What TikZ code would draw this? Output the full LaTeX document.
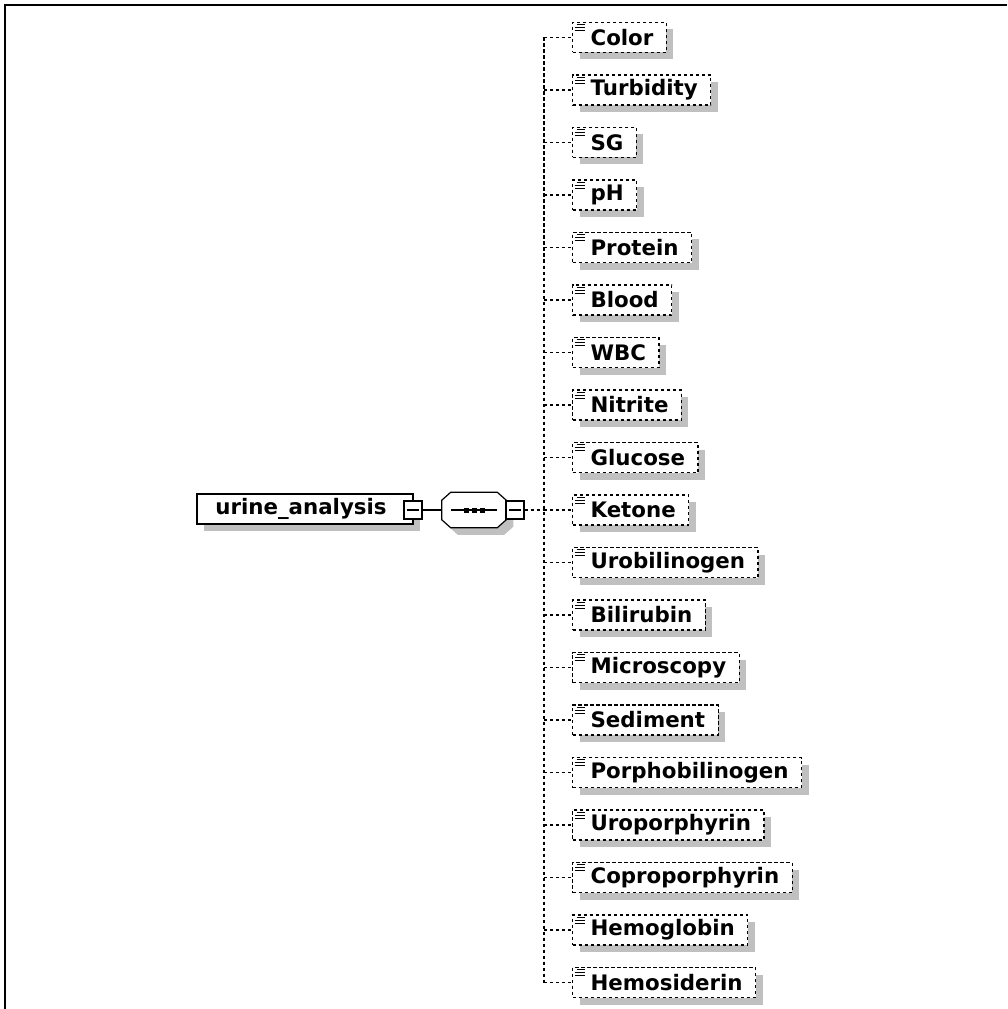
\documentclass[tikz,border=0pt]{standalone}
\usepackage{fontspec}
\setmainfont{DejaVu Sans}
\usetikzlibrary{shadows}
\definecolor{shadowgray}{HTML}{C0C0C0}
\newcommand{\seqoct}[1]{%
    ([shift={(#1+9,#1)}]seq.north west) -- ([shift={(#1-9,#1)}]seq.north east)
    -- ([shift={(#1,#1+8)}]seq.north east) -- ([shift={(#1,#1-8)}]seq.south east)
    -- ([shift={(#1-9,#1)}]seq.south east) -- ([shift={(#1+9,#1)}]seq.south west)
    -- ([shift={(#1,#1-8)}]seq.south west) -- ([shift={(#1,#1+8)}]seq.north west)
    -- cycle}
\tikzset{
    dropgray/.style={
        drop shadow={shadow xshift=5.25pt,shadow yshift=-5.25pt,
        fill=shadowgray,opacity=1}
    },
    labelfont/.style={font=\fontsize{16}{18}\selectfont\bfseries},
    conn/.style={line width=0.9pt,dash pattern=on 2.5pt off 2pt},
    rootbox/.style={
        draw,line width=1.1pt,fill=white,dropgray,labelfont,
        minimum width=162pt,minimum height=22.5pt,inner sep=0pt
    },
    elembox/.style={
        draw,conn,fill=white,dropgray,labelfont,anchor=west,
        minimum height=22.5pt,inner xsep=9.75pt,inner ysep=0pt,
        path picture={
            \draw[solid,line width=0.7pt]
                ([shift={(4,2)}]path picture bounding box.north west) -- ++(8,0)
                ([shift={(2,5)}]path picture bounding box.north west) -- ++(10,0)
                ([shift={(2,8)}]path picture bounding box.north west) -- ++(10,0);
        }
    },
    minusbox/.style={
        draw,line width=0.9pt,fill=white,minimum size=13.5pt,inner sep=0pt,
        path picture={
            \draw[line width=0.9pt]
                ([xshift=2.5pt]path picture bounding box.west) --
                ([xshift=-2.5pt]path picture bounding box.east);
        }
    },
    seqslot/.style={minimum width=48pt,minimum height=26.25pt,inner sep=0pt},
}

\begin{document}
\begin{tikzpicture}[x=0.75pt,y=-0.75pt]
    \useasboundingbox (0,0) rectangle (1007,1009);
    \draw[line width=1.5pt] (5,1009) -- (5,5) -- (1007,5);

    \node[rootbox] (root) at (305,509) {urine\_analysis\hspace*{6pt}};
    \node[minusbox] (rootminus) at (413,510) {};
    \node[seqslot] (seq) at (474,510) {};
    \fill[shadowgray] \seqoct{7};
    \draw[line width=0.9pt,fill=white] \seqoct{0};
    \draw[line width=0.9pt] ([xshift=-17pt]seq.center) -- ([xshift=17pt]seq.center);
    \foreach \dx in {-8,0,8}
        \fill ([shift={(\dx-2.5,-2.5)}]seq.center) rectangle ++(5,5);
    \node[minusbox] (seqminus) at (515,510) {};
    \coordinate (trunk) at (544,510);
    \draw[line width=0.9pt] (rootminus) -- (seq);
    \draw[conn] (seqminus) -- (trunk);

    \foreach \name[count=\i] in {Color,Turbidity,SG,pH,Protein,Blood,WBC,
        Nitrite,Glucose,Ketone,Urobilinogen,Bilirubin,Microscopy,Sediment,
        Porphobilinogen,Uroporphyrin,Coproporphyrin,Hemoglobin,Hemosiderin} {
        \pgfmathsetmacro{\y}{37.5+52.5*(\i-1)}
        \node[elembox] (c\i) at (572,\y) {\hspace*{3.75pt}\name};
        \draw[conn] (trunk |- c\i.west) -- (c\i.west);
    }
    \draw[conn] (trunk |- c1.west) -- (trunk |- c19.west);
\end{tikzpicture}
\end{document}
